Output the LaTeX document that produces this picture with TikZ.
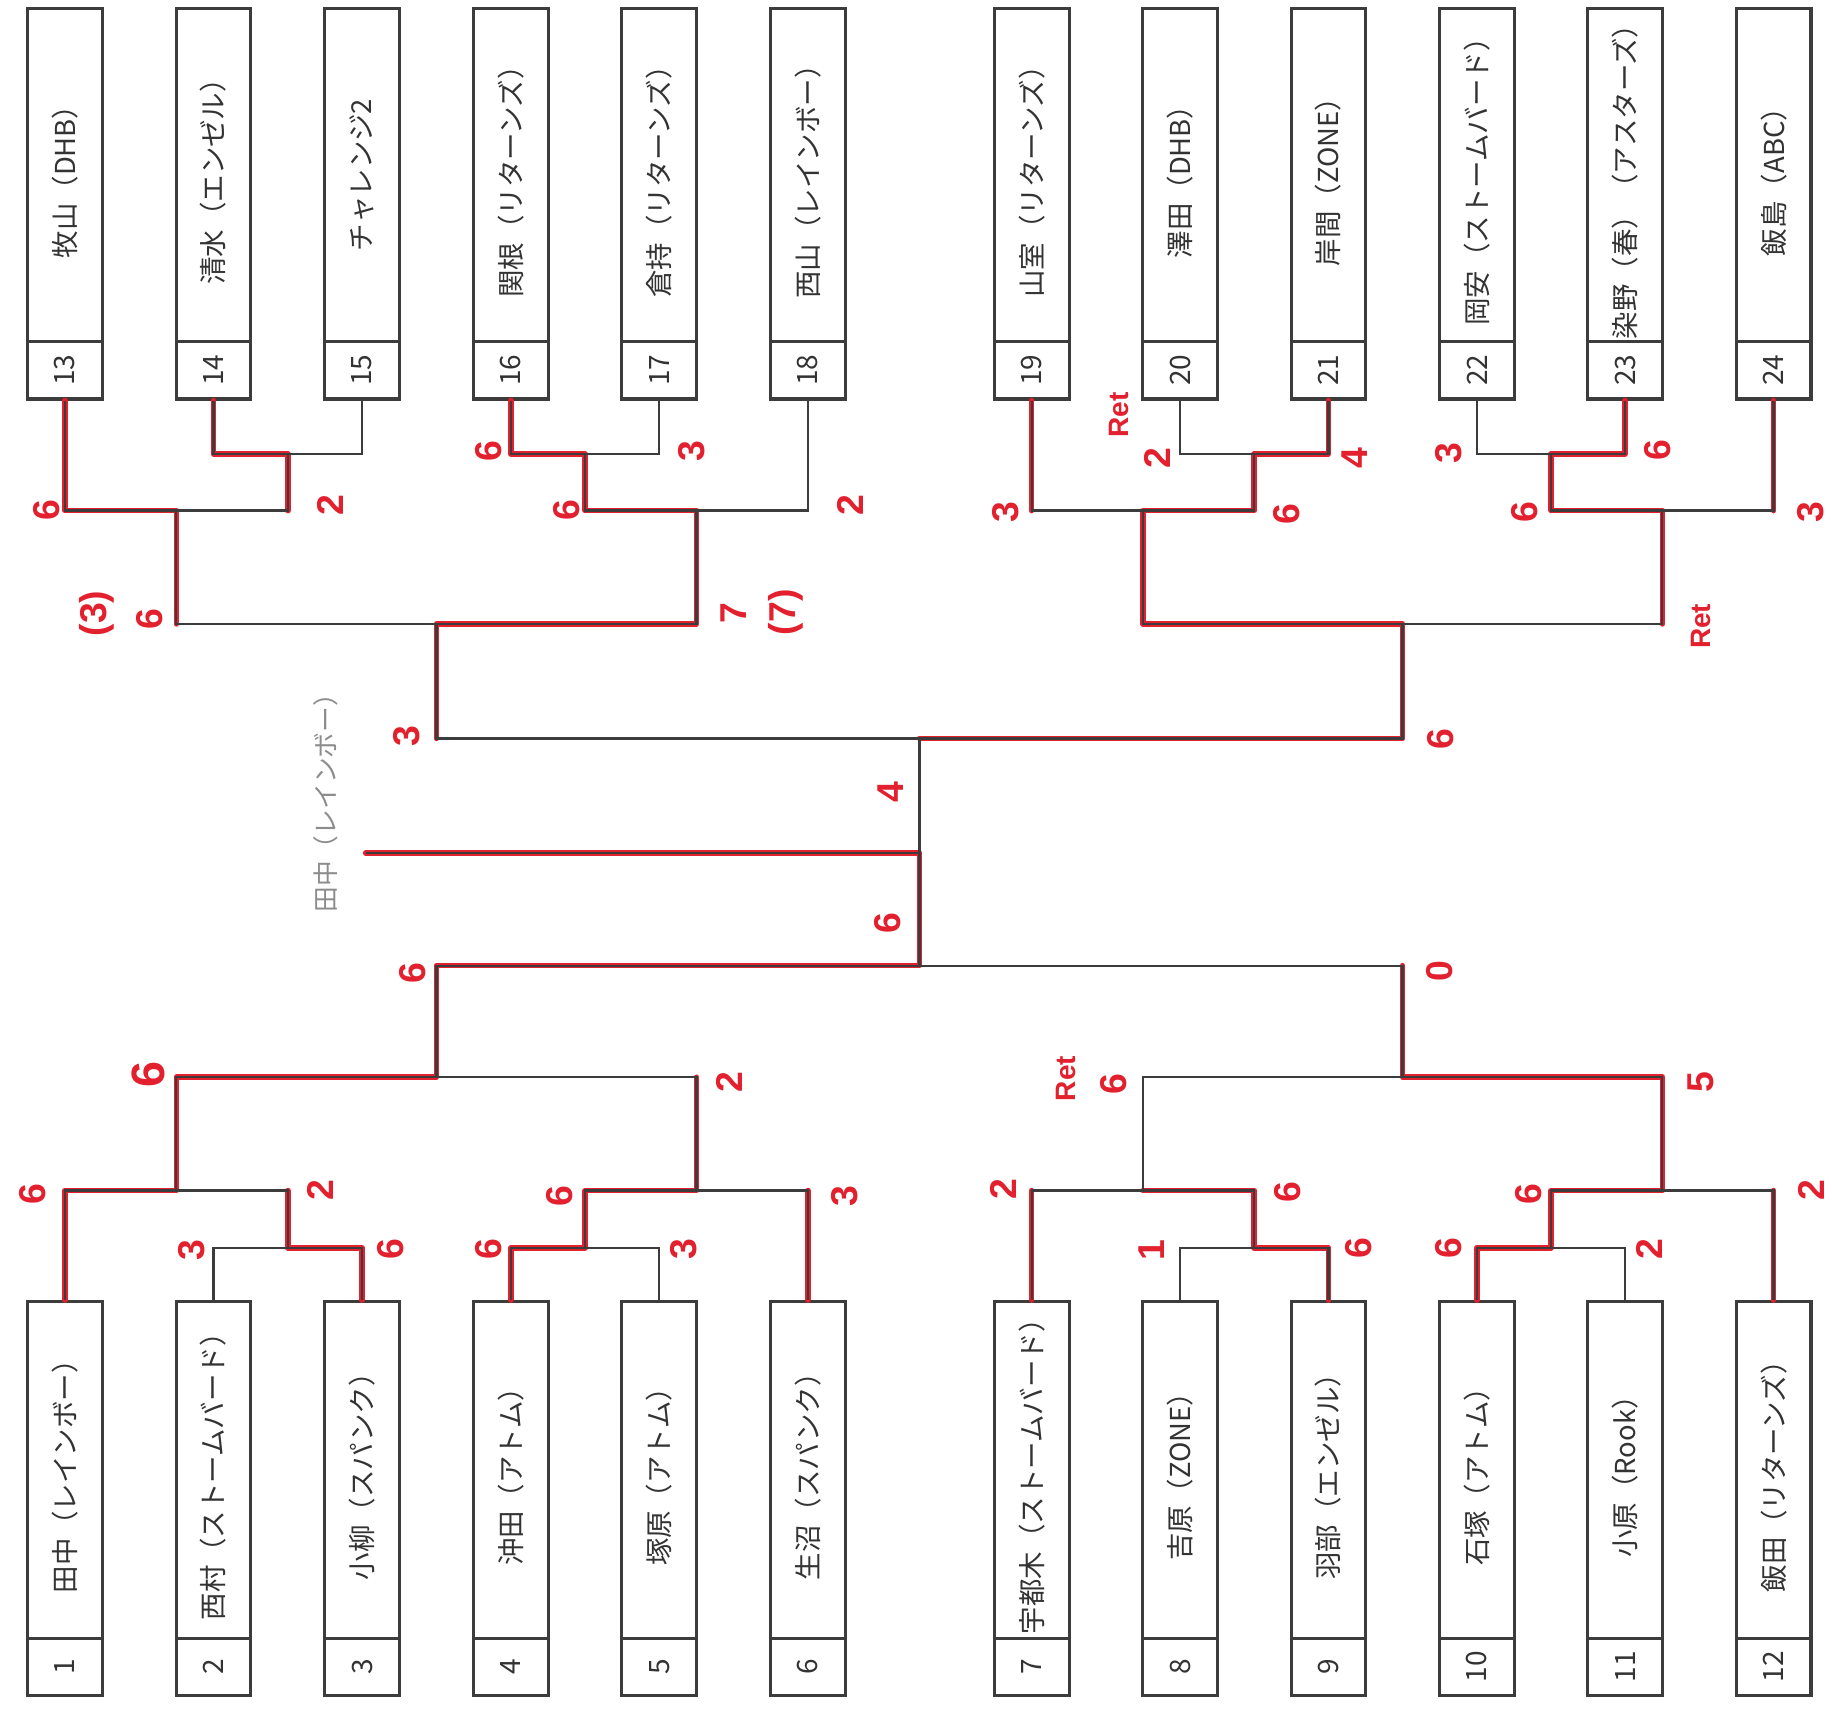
\documentclass[tikz,border=0pt]{standalone}
\usepackage{fontspec}
\setmainfont{Noto Sans CJK JP}
\newfontfamily\handfont{Liberation Sans}
\definecolor{ink}{HTML}{3C3C3C}
\definecolor{txt}{HTML}{333333}
\definecolor{pen}{HTML}{E2202E}
\definecolor{pencil}{HTML}{8C8C8C}
\tikzset{
  boxbase/.style={draw=ink, line width=2.6pt, minimum width=64pt, inner sep=0pt, fill=white, text=txt},
  topname/.style={boxbase, minimum height=284.5pt, font=\fontsize{23.5}{24}\selectfont},
  topnum/.style={boxbase, minimum height=49.5pt, font=\fontsize{24}{24}\selectfont},
  botname/.style={boxbase, minimum height=288pt, font=\fontsize{23.5}{24}\selectfont},
  botnum/.style={boxbase, minimum height=49pt, font=\fontsize{24}{24}\selectfont},
  br/.style={draw=ink, line width=2pt},
  pen/.style={draw=pen, line width=4.8pt, line join=round, line cap=round},
  score/.style={text=pen, rotate=90, inner sep=0pt, font=\handfont\bfseries\fontsize{32}{32}\selectfont},
  retst/.style={score, font=\handfont\bfseries\fontsize{24}{24}\selectfont},
  pencilnote/.style={text=pencil, inner sep=0pt, font=\fontsize{22}{22}\selectfont}
}
\begin{document}
\begin{tikzpicture}[x=1pt,y=-1pt]
\useasboundingbox[fill=white] (0,0) rectangle (1568,1462);

% ---------- top entries 13-24 ----------
\foreach \i/\x/\t in {13/55.5/牧山（DHB）,14/182.7/清水（エンゼル）,15/309.9/チャレンジ2,
  16/437.1/関根（リターンズ）,17/564.3/倉持（リターンズ）,18/691.5/西山（レインボー）,
  19/883/山室（リターンズ）,20/1010/澤田（DHB）,21/1137/岸間（ZONE）,
  22/1264/岡安（ストームバード）,23/1391/染野（春）（アスターズ）,24/1518/飯島（ABC）}{
  \node[topname] (t\i) at (\x,149.75) {\rotatebox{90}{\t}};
  \node[topnum] (n\i) at (\x,316.75) {\rotatebox{90}{\i}};
}
% ---------- bottom entries 1-12 ----------
\foreach \i/\x/\t in {1/55.5/田中（レインボー）,2/182.7/西村（ストームバード）,3/309.9/小柳（スパンク）,
  4/437.1/沖田（アトム）,5/564.3/塚原（アトム）,6/691.5/生沼（スパンク）,
  7/883/宇都木（ストームバード）,8/1010/吉原（ZONE）,9/1137/羽部（エンゼル）,
  10/1264/石塚（アトム）,11/1391/小原（Rook）,12/1518/飯田（リターンズ）}{
  \node[botname] (b\i) at (\x,1258) {\rotatebox{90}{\t}};
  \node[botnum] (m\i) at (\x,1426.5) {\rotatebox{90}{\i}};
}

% ---------- joints ----------
\coordinate (u1415) at (246.3,388.5);
\coordinate (u1617) at (500.7,388.5);
\coordinate (u2021) at (1073.5,388.5);
\coordinate (u2223) at (1327.5,388.5);
\coordinate (uA) at (150.9,437);
\coordinate (uB) at (596.1,437);
\coordinate (uC) at (978.25,437);
\coordinate (uD) at (1422.75,437);
\coordinate (uAB) at (373.5,534);
\coordinate (uCD) at (1200.5,534);
\coordinate (uF) at (787,632);
\coordinate (d23) at (246.3,1068);
\coordinate (d45) at (500.7,1068);
\coordinate (d89) at (1073.5,1068);
\coordinate (d1011) at (1327.5,1068);
\coordinate (dA) at (150.9,1019);
\coordinate (dB) at (596.1,1019);
\coordinate (dC) at (978.25,1019);
\coordinate (dD) at (1422.75,1019);
\coordinate (dAB) at (373.5,922);
\coordinate (dCD) at (1200.5,922);
\coordinate (dF) at (787,826.5);
\coordinate (fin) at (787,730);
\coordinate (winEnd) at (313,730);

% ---------- red winner paths ----------
\draw[pen] (n13.south) |- (uA) -- (uA |- uAB);
\draw[pen] (n14.south) |- (u1415) -- (u1415 |- uA);
\draw[pen] (n16.south) |- (u1617) |- (uB) |- (uAB) -- (uAB |- uF);
\draw[pen] (n19.south) -- (n19.south |- uC);
\draw[pen] (n21.south) |- (u2021) |- (uC) |- (uCD) |- (uF);
\draw[pen] (n23.south) |- (u2223) |- (uD) -- (uD |- uCD);
\draw[pen] (n24.south) -- (n24.south |- uD);
\draw[pen] (b1.north) |- (dA) |- (dAB) |- (dF) |- (fin) -- (winEnd);
\draw[pen] (b3.north) |- (d23) -- (d23 |- dA);
\draw[pen] (b4.north) |- (d45) |- (dB) -- (dB |- dAB);
\draw[pen] (b6.north) -- (b6.north |- dB);
\draw[pen] (b7.north) -- (b7.north |- dC);
\draw[pen] (b9.north) |- (d89) |- (dC);
\draw[pen] (b10.north) |- (d1011) |- (dD) |- (dCD) -- (dCD |- dF);
\draw[pen] (b12.north) -- (b12.north |- dD);

% ---------- bracket lines ----------
\draw[br] (n14.south) |- (u1415) -| (n15.south);
\draw[br] (n16.south) |- (u1617) -| (n17.south);
\draw[br] (n20.south) |- (u2021) -| (n21.south);
\draw[br] (n22.south) |- (u2223) -| (n23.south);
\draw[br] (n13.south) |- (uA) -| (u1415);
\draw[br] (u1617) |- (uB) -| (n18.south);
\draw[br] (n19.south) |- (uC) -| (u2021);
\draw[br] (u2223) |- (uD) -| (n24.south);
\draw[br] (uA) |- (uAB) -| (uB);
\draw[br] (uC) |- (uCD) -| (uD);
\draw[br] (uAB) |- (uF) -| (uCD);
\draw[br] (b2.north) |- (d23) -| (b3.north);
\draw[br] (b4.north) |- (d45) -| (b5.north);
\draw[br] (b8.north) |- (d89) -| (b9.north);
\draw[br] (b10.north) |- (d1011) -| (b11.north);
\draw[br] (b1.north) |- (dA) -| (d23);
\draw[br] (d45) |- (dB) -| (b6.north);
\draw[br] (b7.north) |- (dC) -| (d89);
\draw[br] (d1011) |- (dD) -| (b12.north);
\draw[br] (dA) |- (dAB) -| (dB);
\draw[br] (dC) |- (dCD) -| (dD);
\draw[br] (dAB) |- (dF) -| (dCD);
\draw[br] (uF) -- (dF);
\draw[br] (fin) -- (winEnd);

% ---------- pencil note ----------
\node[pencilnote] (tanaka) at (279,682) {\rotatebox{90}{田中（レインボー）}};

% ---------- scores, top ----------
\node[score] (s1) at (40,437) {6};
\node[score] (s2) at (283,432) {2};
\node[score] (s3) at (418,386) {6};
\node[score] (s4) at (592,386) {3};
\node[score] (s5) at (485,437) {6};
\node[score] (s6) at (728,432) {2};
\node[score] (s7) at (861,438) {3};
\node[retst] (s8) at (958,355) {Ret};
\node[score] (s9) at (991,392) {2};
\node[score] (s10) at (1159,392) {4};
\node[score] (s11) at (1101,440) {6};
\node[score] (s12) at (1240,388) {3};
\node[score] (s13) at (1419,385) {6};
\node[score] (s14) at (1305,438) {6};
\node[score] (s15) at (1550,438) {3};
\node[score] (s16) at (83,525) {(3)};
\node[score] (s17) at (128,530) {6};
\node[score] (s18) at (628,525) {7};
\node[score] (s19) at (673,524) {(7)};
\node[retst] (s20) at (1456,536) {Ret};
\node[score] (s21) at (348,630) {3};
\node[score] (s22) at (1233,633) {6};
\node[score] (s23) at (762,678) {4};
\node[score] (s24) at (760,790) {6};
\node[score] (s25) at (353,833) {6};
\node[score] (s26) at (1232,831) {0};
% ---------- scores, bottom ----------
\node[score, font=\handfont\bfseries\fontsize{40}{40}\selectfont] (s27) at (127,920) {6};
\node[score] (s28) at (624,926) {2};
\node[score] (s29) at (28,1022) {6};
\node[score] (s30) at (274,1019) {2};
\node[score] (s31) at (164,1070) {3};
\node[score] (s32) at (334,1069) {6};
\node[score] (s33) at (479,1024) {6};
\node[score] (s34) at (723,1024) {3};
\node[score] (s35) at (418,1069) {6};
\node[score] (s36) at (585,1069) {3};
\node[retst] (s37) at (912,923) {Ret};
\node[score] (s38) at (953,928) {6};
\node[score] (s39) at (1456,926) {5};
\node[score] (s40) at (859,1018) {2};
\node[score] (s41) at (1102,1020) {6};
\node[score] (s42) at (986,1070) {1};
\node[score] (s43) at (1163,1068) {6};
\node[score] (s44) at (1240,1068) {6};
\node[score] (s45) at (1412,1069) {2};
\node[score] (s46) at (1308,1022) {6};
\node[score] (s47) at (1550,1019) {2};
\end{tikzpicture}
\end{document}
